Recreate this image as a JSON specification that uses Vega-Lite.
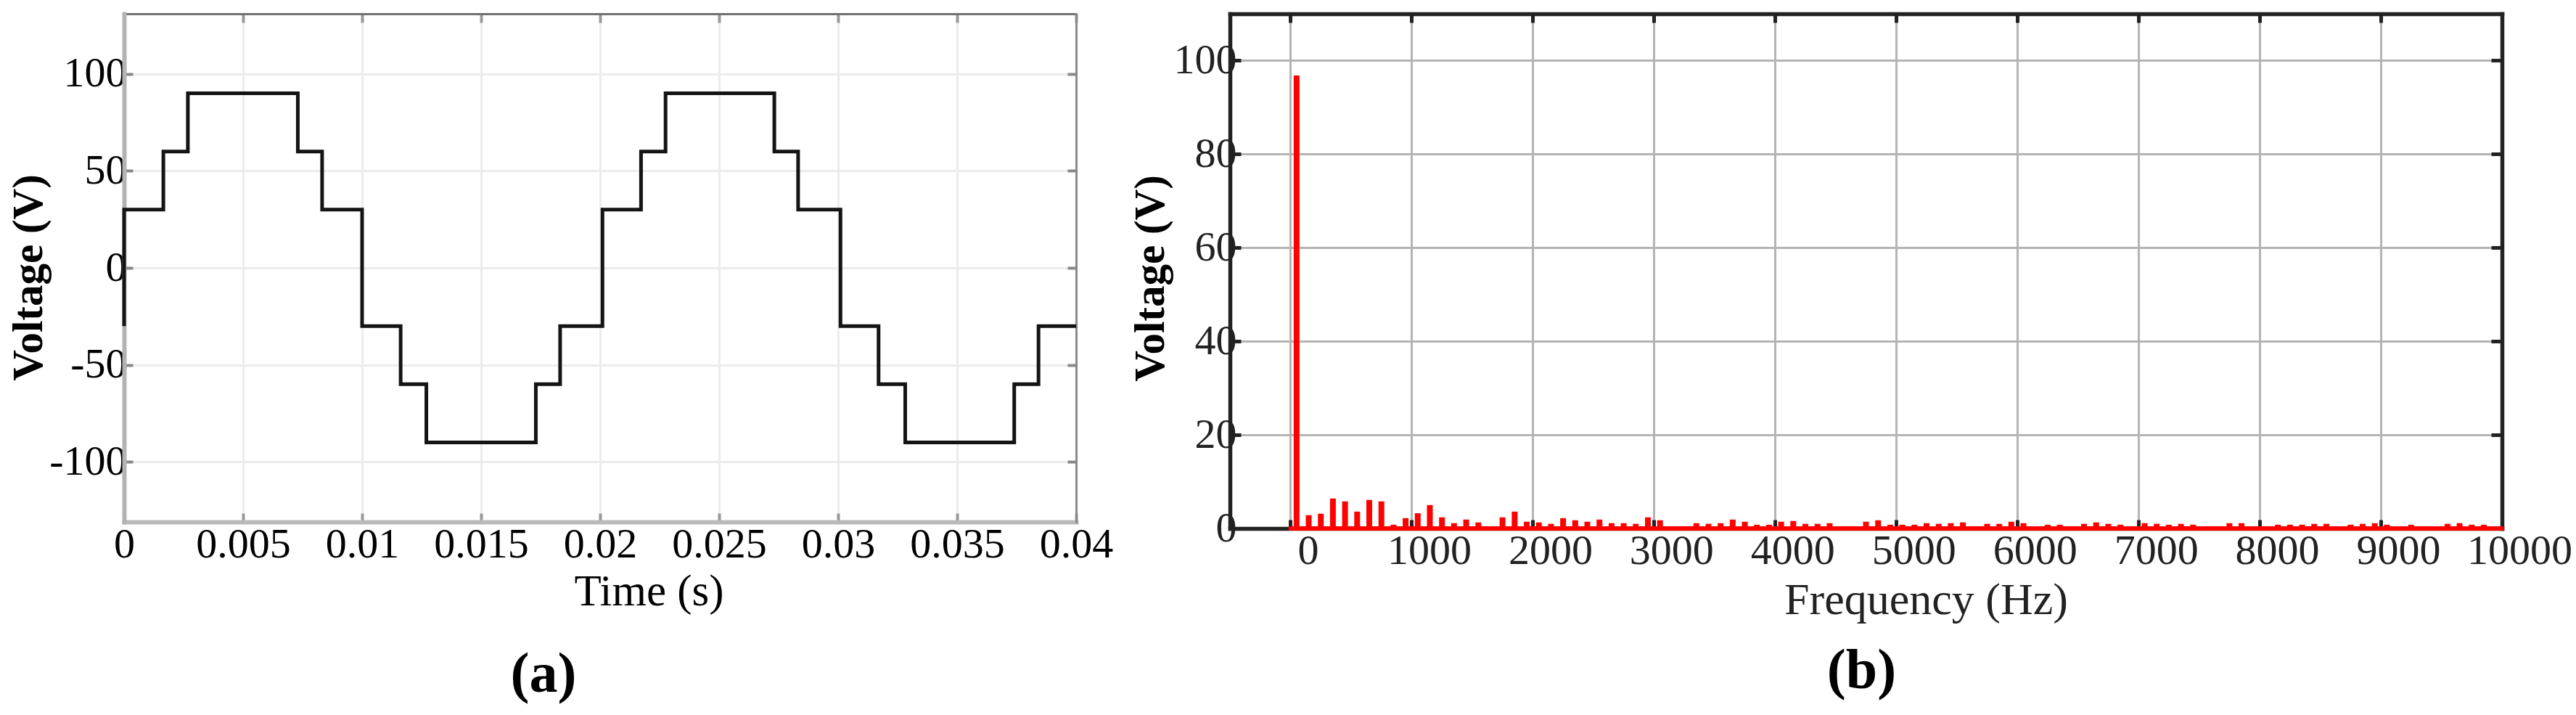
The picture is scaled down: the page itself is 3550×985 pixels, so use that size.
{
  "$schema": "https://vega.github.io/schema/vega-lite/v6.json",
  "autosize": {"type": "pad"},
  "padding": {"left": 10, "top": 10, "right": 5, "bottom": 5},
  "background": "white",
  "config": {"view": {"stroke": null}, "font": "Liberation Serif"},
  "spacing": 22,
  "datasets": {
    "wave": [
      {"i": 0, "t": 0, "v": -30},
      {"i": 1, "t": 0, "v": 30},
      {"i": 2, "t": 0.00165, "v": 60},
      {"i": 3, "t": 0.00268, "v": 90},
      {"i": 4, "t": 0.0073, "v": 60},
      {"i": 5, "t": 0.00832, "v": 30},
      {"i": 6, "t": 0.01, "v": -30},
      {"i": 7, "t": 0.01162, "v": -60},
      {"i": 8, "t": 0.0127, "v": -90},
      {"i": 9, "t": 0.0173, "v": -60},
      {"i": 10, "t": 0.01832, "v": -30},
      {"i": 11, "t": 0.0201, "v": 30},
      {"i": 12, "t": 0.02172, "v": 60},
      {"i": 13, "t": 0.02275, "v": 90},
      {"i": 14, "t": 0.02732, "v": 60},
      {"i": 15, "t": 0.02832, "v": 30},
      {"i": 16, "t": 0.0301, "v": -30},
      {"i": 17, "t": 0.0317, "v": -60},
      {"i": 18, "t": 0.03282, "v": -90},
      {"i": 19, "t": 0.0374, "v": -60},
      {"i": 20, "t": 0.03842, "v": -30},
      {"i": 21, "t": 0.04, "v": -30}
    ],
    "spectrum": [
      {"f": 50, "v": 96.8}, {"f": 150, "v": 2.84}, {"f": 250, "v": 3.15}, {"f": 350, "v": 6.4},
      {"f": 450, "v": 5.78}, {"f": 550, "v": 3.6}, {"f": 650, "v": 6.1}, {"f": 750, "v": 5.78},
      {"f": 850, "v": 0.8}, {"f": 950, "v": 2.2}, {"f": 1050, "v": 3.25}, {"f": 1150, "v": 5.0},
      {"f": 1250, "v": 2.37}, {"f": 1350, "v": 1.13}, {"f": 1450, "v": 1.9}, {"f": 1550, "v": 1.29},
      {"f": 1750, "v": 2.37}, {"f": 1850, "v": 3.6}, {"f": 1950, "v": 1.44}, {"f": 2050, "v": 1.29},
      {"f": 2150, "v": 0.98}, {"f": 2250, "v": 2.2}, {"f": 2350, "v": 1.75}, {"f": 2450, "v": 1.44},
      {"f": 2550, "v": 1.9}, {"f": 2650, "v": 1.13}, {"f": 2750, "v": 1.13}, {"f": 2850, "v": 0.98},
      {"f": 2950, "v": 2.37}, {"f": 3050, "v": 1.75}, {"f": 3350, "v": 1.13}, {"f": 3450, "v": 0.98},
      {"f": 3550, "v": 1.13}, {"f": 3650, "v": 1.9}, {"f": 3750, "v": 1.44}, {"f": 3850, "v": 0.8},
      {"f": 3950, "v": 0.8}, {"f": 4050, "v": 1.44}, {"f": 4150, "v": 1.6}, {"f": 4250, "v": 0.98},
      {"f": 4350, "v": 0.98}, {"f": 4450, "v": 1.13}, {"f": 4750, "v": 1.44}, {"f": 4850, "v": 1.75},
      {"f": 4950, "v": 0.8}, {"f": 5050, "v": 0.8}, {"f": 5150, "v": 0.8}, {"f": 5250, "v": 1.13},
      {"f": 5350, "v": 0.98}, {"f": 5450, "v": 1.13}, {"f": 5550, "v": 1.29}, {"f": 5750, "v": 0.98},
      {"f": 5850, "v": 0.98}, {"f": 5950, "v": 1.44}, {"f": 6050, "v": 1.13}, {"f": 6250, "v": 0.8},
      {"f": 6350, "v": 0.8}, {"f": 6550, "v": 0.98}, {"f": 6650, "v": 1.29}, {"f": 6750, "v": 0.98},
      {"f": 6850, "v": 0.8}, {"f": 7050, "v": 1.13}, {"f": 7150, "v": 0.98}, {"f": 7250, "v": 0.8},
      {"f": 7350, "v": 0.98}, {"f": 7450, "v": 0.8}, {"f": 7750, "v": 1.13}, {"f": 7850, "v": 1.13},
      {"f": 8150, "v": 0.8}, {"f": 8250, "v": 0.8}, {"f": 8350, "v": 0.8}, {"f": 8450, "v": 0.98},
      {"f": 8550, "v": 0.98}, {"f": 8750, "v": 0.8}, {"f": 8850, "v": 0.98}, {"f": 8950, "v": 1.13},
      {"f": 9050, "v": 0.8}, {"f": 9250, "v": 0.8}, {"f": 9550, "v": 0.98}, {"f": 9650, "v": 1.13},
      {"f": 9750, "v": 0.8}, {"f": 9850, "v": 0.8}
    ],
    "base": [{"f0": 0, "f1": 10000, "v": 0}]
  },
  "hconcat": [
    {
      "width": 1312,
      "height": 700,
      "title": {"text": "(a)", "orient": "bottom", "fontSize": 78, "fontWeight": "bold", "font": "Liberation Serif", "color": "#000000", "frame": "group", "anchor": "middle", "dx": -78, "offset": 46, "baseline": "top"},
      "data": {"name": "wave"},
      "layer": [
        {
          "mark": {"type": "line", "interpolate": "step-after", "color": "#141414", "strokeWidth": 5, "strokeJoin": "miter"},
          "encoding": {
            "x": {"field": "t", "type": "quantitative", "scale": {"domain": [0, 0.04], "nice": false, "zero": false},
              "axis": {"orient": "bottom", "values": [0, 0.005, 0.01, 0.015, 0.02, 0.025, 0.03, 0.035, 0.04], "labelExpr": "'' + datum.value",
                "grid": true, "gridColor": "#ececec", "gridWidth": 3, "domainColor": "#bababa", "domainWidth": 6, "domainCap": "square",
                "tickColor": "#999999", "tickWidth": 4, "tickSize": -12, "labelFont": "Liberation Serif", "labelFontSize": 58, "labelColor": "#000000",
                "labelBaseline": "alphabetic", "labelPadding": 60, "labelFlush": false, "labelOverlap": false,
                "title": "Time (s)", "titleFont": "Liberation Serif", "titleFontSize": 61, "titleFontWeight": "normal", "titleColor": "#000000",
                "titleX": 723, "titleY": 114, "titleBaseline": "alphabetic"}},
            "y": {"field": "v", "type": "quantitative", "scale": {"domain": [-131, 131], "nice": false, "zero": false},
              "axis": {"orient": "left", "values": [-100, -50, 0, 50, 100], "labelExpr": "'' + datum.value",
                "grid": true, "gridColor": "#ececec", "gridWidth": 3, "domainColor": "#b3b3b3", "domainWidth": 6, "domainCap": "square",
                "tickColor": "#888888", "tickWidth": 4, "tickSize": -12, "labelFont": "Liberation Serif", "labelFontSize": 58, "labelColor": "#000000",
                "labelPadding": 9, "labelBaseline": "middle", "labelOverlap": false, "labelFlush": false,
                "title": "Voltage (V)", "titleFont": "Liberation Serif", "titleFontSize": 59, "titleFontWeight": "bold", "titleColor": "#000000",
                "titleX": -132, "titleY": 363, "titleBaseline": "middle", "titleAngle": 270}},
            "order": {"field": "i", "type": "quantitative"}
          }
        },
        {
          "mark": {"type": "line", "interpolate": "step-after", "strokeOpacity": 0},
          "encoding": {
            "x": {"field": "t", "type": "quantitative",
              "axis": {"orient": "top", "values": [0, 0.005, 0.01, 0.015, 0.02, 0.025, 0.03, 0.035, 0.04], "labels": false, "grid": false,
                "domainColor": "#707070", "domainWidth": 3, "domainCap": "square", "tickColor": "#999999", "tickWidth": 4, "tickSize": -12, "title": null}},
            "y": {"field": "v", "type": "quantitative",
              "axis": {"orient": "right", "values": [-100, -50, 0, 50, 100], "labels": false, "grid": false,
                "domainColor": "#8a8a8a", "domainWidth": 3, "domainCap": "square", "tickColor": "#888888", "tickWidth": 4, "tickSize": -12, "title": null}},
            "order": {"field": "i", "type": "quantitative"}
          }
        }
      ],
      "resolve": {"axis": {"x": "independent", "y": "independent"}}
    },
    {
      "width": 1753,
      "height": 709,
      "title": {"text": "(b)", "orient": "bottom", "fontSize": 78, "fontWeight": "bold", "font": "Liberation Serif", "color": "#000000", "frame": "group", "anchor": "middle", "dx": -6, "offset": 29, "baseline": "top"},
      "layer": [
        {
          "data": {"name": "spectrum"},
          "mark": {"type": "rule", "color": "#ff0000", "strokeWidth": 8},
          "encoding": {
            "x": {"field": "f", "type": "quantitative", "scale": {"domain": [-500, 10000], "nice": false, "zero": false},
              "axis": {"orient": "bottom", "values": [0, 1000, 2000, 3000, 4000, 5000, 6000, 7000, 8000, 9000, 10000], "labelExpr": "'' + datum.value",
                "grid": true, "gridColor": "#b4b4b4", "gridWidth": 3, "domainColor": "#222222", "domainWidth": 5.5, "domainCap": "square",
                "tickColor": "#222222", "tickWidth": 5, "tickSize": -12, "labelFont": "Liberation Serif", "labelFontSize": 58, "labelColor": "#222222",
                "labelBaseline": "alphabetic", "labelPadding": 60, "labelOffset": 24, "labelFlush": false, "labelOverlap": false,
                "title": "Frequency (Hz)", "titleFont": "Liberation Serif", "titleFontSize": 62, "titleFontWeight": "normal", "titleColor": "#222222",
                "titleX": 959, "titleY": 117, "titleBaseline": "alphabetic"}},
            "y": {"field": "v", "type": "quantitative", "scale": {"domain": [0, 110], "nice": false, "zero": false},
              "axis": {"orient": "left", "values": [0, 20, 40, 60, 80, 100], "labelExpr": "'' + datum.value",
                "grid": true, "gridColor": "#b4b4b4", "gridWidth": 3, "domainColor": "#222222", "domainWidth": 5.5, "domainCap": "square",
                "tickColor": "#222222", "tickWidth": 5, "tickSize": -15, "labelFont": "Liberation Serif", "labelFontSize": 58, "labelColor": "#222222",
                "labelPadding": 6, "labelBaseline": "middle", "labelOverlap": false, "labelFlush": false,
                "title": "Voltage (V)", "titleFont": "Liberation Serif", "titleFontSize": 59, "titleFontWeight": "bold", "titleColor": "#000000",
                "titleX": -110, "titleY": 364, "titleBaseline": "middle", "titleAngle": 270}},
            "y2": {"datum": 0}
          }
        },
        {
          "data": {"name": "base"},
          "mark": {"type": "rule", "color": "#ff0000", "strokeWidth": 6, "strokeCap": "round"},
          "encoding": {
            "x": {"field": "f0", "type": "quantitative",
              "axis": {"orient": "top", "values": [0, 1000, 2000, 3000, 4000, 5000, 6000, 7000, 8000, 9000, 10000], "labels": false, "grid": false,
                "domainColor": "#222222", "domainWidth": 5.5, "domainCap": "square", "tickColor": "#222222", "tickWidth": 5, "tickSize": -12,
                "title": " ", "titleFontSize": 5, "titlePadding": 1}},
            "x2": {"field": "f1"},
            "y": {"field": "v", "type": "quantitative",
              "axis": {"orient": "right", "values": [0, 20, 40, 60, 80, 100], "labels": false, "grid": false,
                "domainColor": "#222222", "domainWidth": 5.5, "domainCap": "square", "tickColor": "#222222", "tickWidth": 5, "tickSize": -15, "title": null}}
          }
        }
      ],
      "resolve": {"axis": {"x": "independent", "y": "independent"}}
    }
  ]
}
